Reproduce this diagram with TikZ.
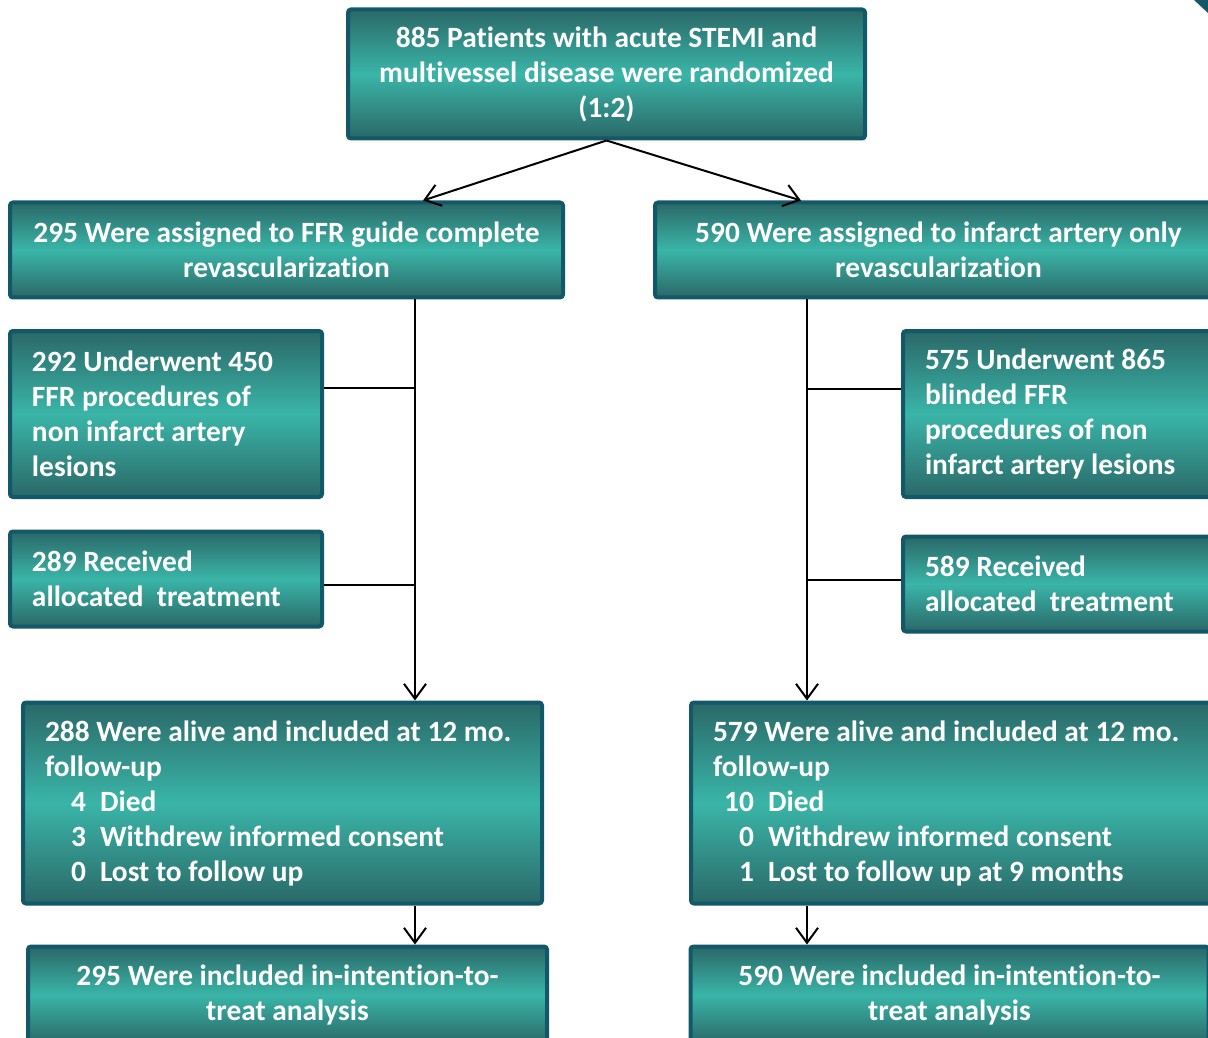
\documentclass[tikz,border=0pt]{standalone}
\usepackage{fontspec}
\setmainfont{Carlito}[RawFeature={-liga;-clig;-dlig;-calt}]
\usetikzlibrary{arrows.meta}
\definecolor{boxedge}{HTML}{125868}
\definecolor{boxdark}{HTML}{2A6868}
\definecolor{boxlight}{HTML}{3AB5A8}
\newcommand{\itm}[2]{\makebox[20.5pt][r]{#1}\hspace{7pt}#2}
\begin{document}
\begin{tikzpicture}[x=0.5pt, y=-0.5pt,
    flowbox/.style={draw=boxedge, line width=2pt, rounded corners=1.5pt,
      top color=boxdark, bottom color=boxdark, middle color=boxlight,
      text=white, font=\fontsize{14.7}{17.5}\selectfont\bfseries,
      align=center, inner sep=0pt},
    listbox/.style={flowbox, align=flush left, inner xsep=11pt},
    flow/.style={line width=1pt, -{Straight Barb[length=7.5pt,width=11pt]}}]
  \useasboundingbox (0,0) rectangle (1208,1037);
  \clip (0,0) rectangle (1208,1037);
  \fill[boxedge] (1194,0) -- (1208,0) -- (1208,13) -- cycle;
  % randomization
  \node[flowbox, minimum width=258.5pt, minimum height=64.5pt] (rand) at (606.5,74)
    {885 Patients with acute STEMI and\\ multivessel disease were randomized\\ (1:2)};
  % assignment
  \node[flowbox, minimum width=276.5pt, minimum height=47.5pt] (ffr) at (286.5,250)
    {295 Were assigned to FFR guide complete\\ revascularization};
  \node[flowbox, minimum width=283.5pt, minimum height=47.5pt] (ira) at (938.5,250)
    {590 Were assigned to infarct artery only\\ revascularization};
  % procedures
  \node[listbox, text width=134pt, minimum height=83pt] (ffrproc) at (166,414)
    {292 Underwent 450\\ FFR procedures of\\ non infarct artery\\ lesions};
  \node[listbox, text width=150pt, minimum height=83pt, anchor=west] (iraproc) at (901,414)
    {575 Underwent 865\\ blinded FFR\\ procedures of non\\ infarct artery lesions};
  % treatment
  \node[listbox, text width=134pt, minimum height=47.5pt] (ffrtreat) at (166,579)
    {289 Received\\ allocated\ \ treatment};
  \node[listbox, text width=150pt, minimum height=47.5pt, anchor=west] (iratreat) at (901,584)
    {589 Received\\ allocated\ \ treatment};
  % follow-up
  \node[listbox, text width=237.5pt, minimum height=100.5pt] (ffrfu) at (282.5,803)
    {288 Were alive and included at 12 mo.\\ follow-up\\ \itm{4}{Died}\\
     \itm{3}{Withdrew informed consent}\\ \itm{0}{Lost to follow up}};
  \node[listbox, text width=248pt, minimum height=100.5pt, anchor=west] (irafu) at (689,803)
    {579 Were alive and included at 12 mo.\\ follow-up\\ \itm{10}{Died}\\
     \itm{0}{Withdrew informed consent}\\ \itm{1}{Lost to follow up at 9 months}};
  % analysis
  \node[flowbox, minimum width=259.5pt, minimum height=48.5pt] (ffritt) at (287.5,995)
    {295 Were included in-intention-to-\\ treat analysis};
  \node[flowbox, minimum width=259pt, minimum height=48.5pt] (iraitt) at (949.5,995)
    {590 Were included in-intention-to-\\ treat analysis};
  % connectors
  \draw[flow] (rand.south) -- ([xshift=207.5pt]ffr.north west);
  \draw[flow] (rand.south) -- ([xshift=74pt]ira.north west);
  \coordinate (lsplit) at ([xshift=203.5pt]ffr.south west);
  \coordinate (rsplit) at ([xshift=77pt]ira.south west);
  \draw[flow] (lsplit) -- (lsplit |- ffrfu.north);
  \draw[flow] (rsplit) -- (rsplit |- irafu.north);
  \draw[line width=1pt] ([yshift=13pt]ffrproc.east) -- ([yshift=13pt]ffrproc.east -| lsplit);
  \draw[line width=1pt] ([yshift=-2.75pt]ffrtreat.east) -- ([yshift=-2.75pt]ffrtreat.east -| lsplit);
  \draw[line width=1pt] ([yshift=12.5pt]iraproc.west) -- ([yshift=12.5pt]iraproc.west -| rsplit);
  \draw[line width=1pt] ([yshift=2.25pt]iratreat.west) -- ([yshift=2.25pt]iratreat.west -| rsplit);
  \draw[flow] (lsplit |- ffrfu.south) -- (lsplit |- ffritt.north);
  \draw[flow] (rsplit |- irafu.south) -- (rsplit |- iraitt.north);
\end{tikzpicture}
\end{document}
